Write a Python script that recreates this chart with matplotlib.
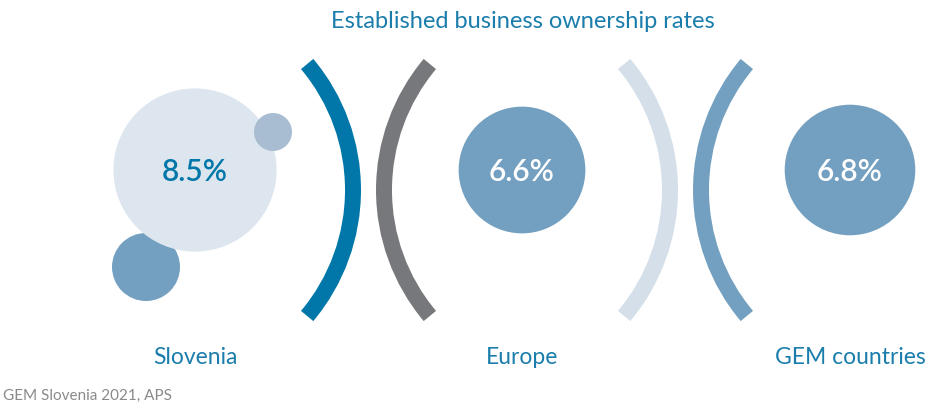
import numpy as np
import matplotlib
matplotlib.use("Agg")
import matplotlib.pyplot as plt
from matplotlib.patches import Circle, Arc

plt.rcParams["font.family"] = ["Lato", "DejaVu Sans"]

# data
regions = ["Slovenia", "Europe", "GEM countries"]
rates = [8.5, 6.6, 6.8]
value_labels = ["8.5%", "6.6%", "6.8%"]

BLUE = "#0077a8"; TXT = "#1a7dac"; STEEL = "#73a0c0"
PALE = "#dde6ee"; SOFT = "#a8bdd2"; GREY = "#77787b"; LIGHT = "#d5dfe9"

fig = plt.figure(figsize=(9.26, 4.04), dpi=100)
ax = fig.add_axes([0, 0, 1, 1])
ax.set_xlim(0, 926); ax.set_ylim(404, 0)
ax.axis("off")

cx = [195, 522, 850]
cy = 170
k = 9.6  # radius per percentage point
fills = [PALE, STEEL, STEEL]
tcols = [BLUE, "white", "white"]
for x, r, lab, fc, tc, name in zip(cx, rates, value_labels, fills, tcols, regions):
    ax.add_patch(Circle((x, cy), r * k, color=fc, lw=0))
    ax.text(x, cy + 2, lab, ha="center", va="center", color=tc,
            fontsize=21.5, fontweight="semibold")
    ax.text(x, 357, name, ha="center", va="center", color=TXT, fontsize=16.5)

# decorative satellite circles around Slovenia
ax.add_patch(Circle((273, 132), 19, color=SOFT, lw=0))
ax.add_patch(Circle((146, 267), 34, color=STEEL, lw=0, zorder=0))

# brackets between the circles
R = 196; lw = 11.5
for (x0, th1, th2, col) in [(157, -40, 40, BLUE), (580, 140, 220, GREY),
                            (474, -40, 40, LIGHT), (897, 140, 220, STEEL)]:
    ax.add_patch(Arc((x0, 190), 2 * R, 2 * R, theta1=th1, theta2=th2,
                     color=col, lw=lw))

ax.text(523, 22, "Established business ownership rates", ha="center", va="center",
        color=TXT, fontsize=17)
ax.text(3, 396, "GEM Slovenia 2021, APS", ha="left", va="center",
        color="#8a8a8a", fontsize=11)

fig.savefig("out.png", dpi=100)
